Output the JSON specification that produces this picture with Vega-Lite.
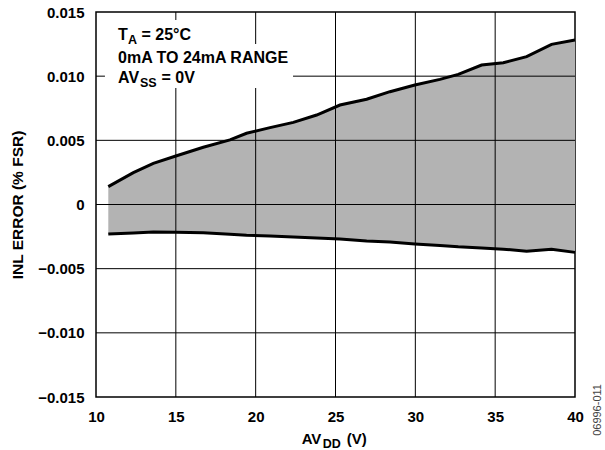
{
  "$schema": "https://vega.github.io/schema/vega-lite/v6.json",
  "width": 479,
  "height": 385,
  "autosize": {"type": "none"},
  "padding": {"left": 96, "top": 12, "right": 30, "bottom": 53},
  "background": "white",
  "config": {
    "view": {"stroke": "black", "strokeWidth": 1.5},
    "font": "Liberation Sans",
    "axis": {"labelFont": "Liberation Sans", "labelFontWeight": "bold", "labelColor": "black", "labelFontSize": 15, "titleFont": "Liberation Sans", "titleFontWeight": "bold", "titleColor": "black", "titleFontSize": 15.5}
  },
  "datasets": {
    "inl": [
      {"avdd": 10.77, "max": 0.00139, "min": -0.0023},
      {"avdd": 12.34, "max": 0.00248, "min": -0.00222},
      {"avdd": 13.59, "max": 0.00321, "min": -0.00214},
      {"avdd": 15.0, "max": 0.00378, "min": -0.00216},
      {"avdd": 16.72, "max": 0.00446, "min": -0.0022},
      {"avdd": 18.39, "max": 0.00503, "min": -0.00232},
      {"avdd": 19.43, "max": 0.00555, "min": -0.0024},
      {"avdd": 20.9, "max": 0.00599, "min": -0.00246},
      {"avdd": 22.36, "max": 0.0064, "min": -0.00254},
      {"avdd": 23.82, "max": 0.00697, "min": -0.00262},
      {"avdd": 25.28, "max": 0.00775, "min": -0.00268},
      {"avdd": 26.95, "max": 0.0082, "min": -0.00285},
      {"avdd": 28.41, "max": 0.00879, "min": -0.00292},
      {"avdd": 29.97, "max": 0.00931, "min": -0.00308},
      {"avdd": 31.54, "max": 0.00975, "min": -0.0032},
      {"avdd": 32.69, "max": 0.01014, "min": -0.0033},
      {"avdd": 34.15, "max": 0.01087, "min": -0.00338},
      {"avdd": 35.51, "max": 0.01105, "min": -0.00348},
      {"avdd": 36.97, "max": 0.01152, "min": -0.00365},
      {"avdd": 38.53, "max": 0.01248, "min": -0.00349},
      {"avdd": 40.0, "max": 0.01282, "min": -0.00373}
    ],
    "xg": [{"v": 15}, {"v": 20}, {"v": 25}, {"v": 30}, {"v": 35}],
    "yg": [{"v": -0.01}, {"v": -0.005}, {"v": 0}, {"v": 0.005}, {"v": 0.01}],
    "one": [{}]
  },
  "layer": [
    {
      "data": {"name": "inl"},
      "mark": {"type": "area", "color": "#b3b3b3"},
      "encoding": {
        "x": {"field": "avdd", "type": "quantitative", "scale": {"domain": [10, 40], "nice": false, "zero": false},
          "axis": {"values": [10, 15, 20, 25, 30, 35, 40], "grid": false, "ticks": false, "domain": false, "labelPadding": 12, "labelFlush": false, "labelOverlap": false, "title": null}},
        "y": {"field": "max", "type": "quantitative", "scale": {"domain": [-0.015, 0.015], "nice": false, "zero": false},
          "axis": {"values": [-0.015, -0.01, -0.005, 0, 0.005, 0.01, 0.015], "grid": false, "ticks": false, "domain": false, "labelPadding": 12, "labelFlush": false, "labelOverlap": false,
            "labelExpr": "datum.value == 0 ? '0' : replace(format(datum.value, '.3f'), '-', '–')",
            "title": "INL ERROR (% FSR)", "titlePadding": 12}},
        "y2": {"field": "min"}
      }
    },
    {
      "data": {"name": "xg"},
      "mark": {"type": "rule", "color": "black", "strokeWidth": 1},
      "encoding": {"x": {"field": "v", "type": "quantitative"}}
    },
    {
      "data": {"name": "yg"},
      "mark": {"type": "rule", "color": "black", "strokeWidth": 1},
      "encoding": {"y": {"field": "v", "type": "quantitative"}}
    },
    {
      "data": {"name": "inl"},
      "mark": {"type": "line", "color": "black", "strokeWidth": 3},
      "encoding": {"x": {"field": "avdd", "type": "quantitative"}, "y": {"field": "max", "type": "quantitative"}}
    },
    {
      "data": {"name": "inl"},
      "mark": {"type": "line", "color": "black", "strokeWidth": 3},
      "encoding": {"x": {"field": "avdd", "type": "quantitative"}, "y": {"field": "min", "type": "quantitative"}}
    },
    {
      "data": {"name": "one"},
      "mark": {"type": "rect", "fill": "white"},
      "encoding": {"x": {"datum": 10.56}, "x2": {"datum": 19.58}, "y": {"datum": 0.01438}, "y2": {"datum": 0.01251}}
    },
    {
      "data": {"name": "one"},
      "mark": {"type": "rect", "fill": "white"},
      "encoding": {"x": {"datum": 10.56}, "x2": {"datum": 22.34}, "y": {"datum": 0.01251}, "y2": {"datum": 0.00908}}
    },
    {
      "data": {"name": "one"},
      "mark": {"type": "text", "text": "T", "fontSize": 16, "fontWeight": "bold", "align": "left", "baseline": "alphabetic", "color": "black"},
      "encoding": {"x": {"datum": 11.38}, "y": {"datum": 0.01282}}
    },
    {
      "data": {"name": "one"},
      "mark": {"type": "text", "text": "A", "fontSize": 12.5, "fontWeight": "bold", "align": "left", "baseline": "alphabetic", "dx": 10, "dy": 4, "color": "black"},
      "encoding": {"x": {"datum": 11.38}, "y": {"datum": 0.01282}}
    },
    {
      "data": {"name": "one"},
      "mark": {"type": "text", "text": "= 25°C", "fontSize": 16, "fontWeight": "bold", "align": "left", "baseline": "alphabetic", "dx": 23.5, "color": "black"},
      "encoding": {"x": {"datum": 11.38}, "y": {"datum": 0.01282}}
    },
    {
      "data": {"name": "one"},
      "mark": {"type": "text", "text": "0mA TO 24mA RANGE", "fontSize": 16, "fontWeight": "bold", "align": "left", "baseline": "alphabetic", "color": "black"},
      "encoding": {"x": {"datum": 11.38}, "y": {"datum": 0.01105}}
    },
    {
      "data": {"name": "one"},
      "mark": {"type": "text", "text": "AV", "fontSize": 16, "fontWeight": "bold", "align": "left", "baseline": "alphabetic", "color": "black"},
      "encoding": {"x": {"datum": 11.38}, "y": {"datum": 0.00949}}
    },
    {
      "data": {"name": "one"},
      "mark": {"type": "text", "text": "SS", "fontSize": 12.5, "fontWeight": "bold", "align": "left", "baseline": "alphabetic", "dx": 22, "dy": 4, "color": "black"},
      "encoding": {"x": {"datum": 11.38}, "y": {"datum": 0.00949}}
    },
    {
      "data": {"name": "one"},
      "mark": {"type": "text", "text": "= 0V", "fontSize": 16, "fontWeight": "bold", "align": "left", "baseline": "alphabetic", "dx": 43.5, "color": "black"},
      "encoding": {"x": {"datum": 11.38}, "y": {"datum": 0.00949}}
    },
    {
      "data": {"name": "one"},
      "mark": {"type": "text", "text": "AV", "fontSize": 15, "fontWeight": "bold", "align": "left", "baseline": "alphabetic", "color": "black"},
      "encoding": {"x": {"datum": 22.88}, "y": {"datum": -0.01866}}
    },
    {
      "data": {"name": "one"},
      "mark": {"type": "text", "text": "DD", "fontSize": 12.5, "fontWeight": "bold", "align": "left", "baseline": "alphabetic", "dx": 21, "dy": 4, "color": "black"},
      "encoding": {"x": {"datum": 22.88}, "y": {"datum": -0.01866}}
    },
    {
      "data": {"name": "one"},
      "mark": {"type": "text", "text": "(V)", "fontSize": 15, "fontWeight": "bold", "align": "left", "baseline": "alphabetic", "dx": 45, "color": "black"},
      "encoding": {"x": {"datum": 22.88}, "y": {"datum": -0.01866}}
    },
    {
      "data": {"name": "one"},
      "mark": {"type": "text", "text": "06996-011", "fontSize": 11, "angle": 270, "align": "center", "baseline": "middle", "color": "#444444"},
      "encoding": {"x": {"datum": 41.44}, "y": {"datum": -0.01601}}
    }
  ]
}
